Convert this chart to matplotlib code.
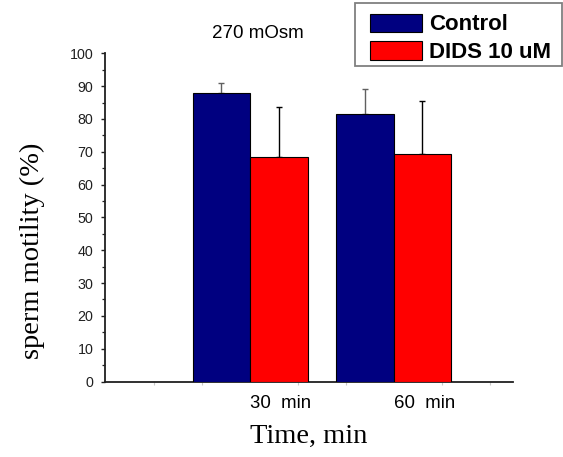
import matplotlib
matplotlib.use("Agg")
import matplotlib.pyplot as plt
from matplotlib.patches import Rectangle
import numpy as np

# Data
times = ["30  min", "60  min"]
control_mean = [87.9, 81.6]
control_err = [2.9, 7.4]
dids_mean = [68.4, 69.4]
dids_err = [15.1, 16.1]
series_names = ["Control", "DIDS 10 uM"]

W, H = 563, 457
fig = plt.figure(figsize=(W / 100, H / 100), dpi=100)
ax = fig.add_axes([105 / W, 75.5 / H, 408 / W, 328.2 / H])

x = np.arange(1, len(times) + 1)
bw = 0.4
navy = "#000080"
red = "#FF0000"

b1 = ax.bar(x - bw / 2, control_mean, bw, color=navy, edgecolor="black",
            linewidth=0.8, label=series_names[0], zorder=3)
b2 = ax.bar(x + bw / 2, dids_mean, bw, color=red, edgecolor="black",
            linewidth=0.8, label=series_names[1], zorder=3)

# upper-only error bars
ax.errorbar(x - bw / 2, control_mean, yerr=[np.zeros(len(x)), control_err],
            fmt="none", ecolor="#606060", elinewidth=1.0, capsize=2,
            capthick=1.0, zorder=2)
ax.errorbar(x + bw / 2, dids_mean, yerr=[np.zeros(len(x)), dids_err],
            fmt="none", ecolor="black", elinewidth=1.0, capsize=2,
            capthick=1.0, zorder=2)

ax.set_xlim(-0.01, 2.83)
ax.set_ylim(0, 100)

# y axis ticks
ax.set_yticks(np.arange(0, 101, 10))
ax.set_yticks(np.arange(5, 100, 10), minor=True)
ax.tick_params(axis="y", which="major", direction="out", length=3.2,
               width=1.0, pad=5, labelsize=10.3, colors="#202020")
ax.tick_params(axis="y", which="minor", direction="out", length=2,
               width=0.9, colors="#202020")
for lab in ax.get_yticklabels():
    lab.set_fontfamily("Liberation Sans")

# x axis ticks
ax.set_xticks(x)
ax.set_xticklabels(times, fontsize=13.4, fontfamily="Liberation Sans", ha="left")
ax.set_xticks(np.arange(1, 9) / 3, minor=True)
ax.tick_params(axis="x", which="major", length=0, pad=10, colors="black")
ax.tick_params(axis="x", which="minor", direction="out", length=2.5,
               width=0.8, colors="#c8c8c8")

for s in ["top", "right"]:
    ax.spines[s].set_visible(False)
for s in ["left", "bottom"]:
    ax.spines[s].set_linewidth(1.3)
    ax.spines[s].set_color("#202020")

ax.set_xlabel("Time, min", fontsize=20.5, fontfamily="Liberation Serif")
ax.xaxis.set_label_coords(0.5, -0.128)
ax.set_ylabel("sperm motility (%)", fontsize=20.5, fontfamily="Liberation Serif")
ax.yaxis.label.set_va("center")
ax.yaxis.set_label_coords(-0.179, 0.398)

ax.text(0.375, 1.060, "270 mOsm", transform=ax.transAxes, ha="center",
        va="center", fontsize=13.5, fontfamily="Liberation Sans")

# legend entries, with a separate box drawn around them
leg = ax.legend(handles=[b1, b2], loc="upper left",
                bbox_to_anchor=(370 / W, 1 - 13.5 / H),
                bbox_transform=fig.transFigure, borderaxespad=0,
                prop={"family": "Liberation Sans", "weight": "bold", "size": 16},
                handlelength=2.33, handleheight=0.9, handletextpad=0.34,
                labelspacing=0.27, borderpad=0, frameon=False)
fig.patches.append(Rectangle((355 / W, 1 - 65.7 / H), 207 / W, 63 / H,
                             transform=fig.transFigure, facecolor="none",
                             edgecolor="#808080", linewidth=1.3, zorder=5))

fig.savefig("out.png", dpi=100)
